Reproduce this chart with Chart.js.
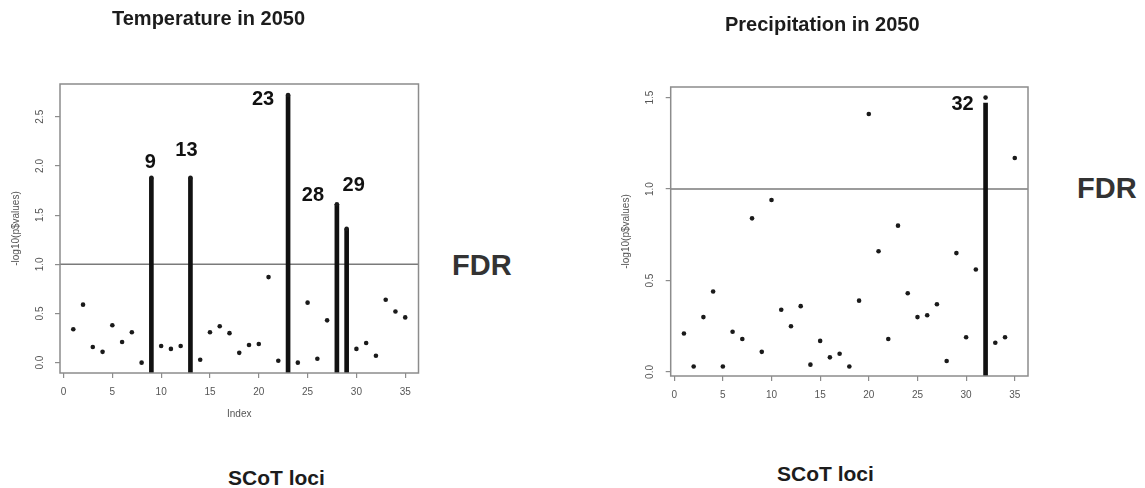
<!DOCTYPE html>
<html>
<head>
<meta charset="utf-8">
<script src="https://cdn.jsdelivr.net/npm/chart.js@4.4.1/dist/chart.umd.min.js"></script>
<style>
  body { margin: 0; background: #fff; width: 1145px; height: 488px; position: relative; overflow: hidden; font-family: "Liberation Sans", Arial, sans-serif; }
  canvas { position: absolute; top: 0; }
  #tempChart { left: 0; }
  #precipChart { left: 600px; }
  .lbl { position: absolute; font-weight: bold; color: #1c1c1c; white-space: nowrap; line-height: 1; }
  .title { font-size: 20px; }
  .fdr { font-size: 29px; color: #333; }
  .loci { font-size: 21px; }
</style>
</head>
<body>
<canvas id="tempChart" width="440" height="440"></canvas>
<canvas id="precipChart" width="450" height="440"></canvas>

<div class="lbl title" style="left:112px; top:8px">Temperature in 2050</div>
<div class="lbl title" style="left:725px; top:14px">Precipitation in 2050</div>
<div class="lbl fdr" style="left:452px; top:251px">FDR</div>
<div class="lbl fdr" style="left:1077px; top:174px">FDR</div>
<div class="lbl loci" style="left:228px; top:467px">SCoT loci</div>
<div class="lbl loci" style="left:777px; top:463px">SCoT loci</div>

<script>
Chart.defaults.font.family = '"Liberation Sans", Arial, sans-serif';

// locus index along the x axis
const loci = [1, 2, 3, 4, 5, 6, 7, 8, 9, 10, 11, 12, 13, 14, 15, 16, 17, 18,
  19, 20, 21, 22, 23, 24, 25, 26, 27, 28, 29, 30, 31, 32, 33, 34, 35];

// -log10(p) per locus, temperature model
const tempValues = [0.34, 0.59, 0.16, 0.11, 0.38, 0.21, 0.31, 0.00, 1.88, 0.17,
  0.14, 0.17, 1.88, 0.03, 0.31, 0.37, 0.30, 0.10, 0.18, 0.19,
  0.87, 0.02, 2.72, 0.00, 0.61, 0.04, 0.43, 1.61, 1.36, 0.14,
  0.20, 0.07, 0.64, 0.52, 0.46];

// -log10(p) per locus, precipitation model
const precipValues = [0.21, 0.03, 0.30, 0.44, 0.03, 0.22, 0.18, 0.84, 0.11, 0.94,
  0.34, 0.25, 0.36, 0.04, 0.17, 0.08, 0.10, 0.03, 0.39, 1.41,
  0.66, 0.18, 0.80, 0.43, 0.30, 0.31, 0.37, 0.06, 0.65, 0.19,
  0.56, 1.50, 0.16, 0.19, 1.17];

// loci passing the FDR cut and the height of their bars
const tempHits = [9, 13, 23, 28, 29];
const tempHitHeights = [1.88, 1.88, 2.72, 1.61, 1.36];
const precipHits = [32];
const precipHitHeights = [1.47];

const fdrLevel = 1.0;

const xRange = [-0.36, 36.36];
const tempYRange = [-0.105, 2.833];
const precipYRange = [-0.022, 1.558];

// box, rotated y labels and locus numbers, R style
const frame = {
  id: 'frame',
  afterDatasetsDraw(chart, args, o) {
    const { ctx, chartArea: a, scales: { x, y } } = chart;
    ctx.save();
    ctx.strokeStyle = '#8c8c8c';
    ctx.lineWidth = 1.5;
    ctx.strokeRect(a.left, a.top, a.right - a.left, a.bottom - a.top);

    ctx.fillStyle = '#555';
    ctx.font = '10px "Liberation Sans"';
    ctx.textAlign = 'center';
    ctx.textBaseline = 'middle';
    y.ticks.forEach(t => {
      ctx.save();
      ctx.translate(a.left - 20, y.getPixelForValue(t.value));
      ctx.rotate(-Math.PI / 2);
      ctx.fillText(t.value.toFixed(1), 0, 0);
      ctx.restore();
    });
    ctx.save();
    ctx.translate(a.left - 44, (a.top + a.bottom) / 2);
    ctx.rotate(-Math.PI / 2);
    ctx.fillText('-log10(p$values)', 0, 0);
    ctx.restore();
    if (o.xTitle) ctx.fillText(o.xTitle, (a.left + a.right) / 2, a.bottom + 41);

    ctx.fillStyle = '#111';
    ctx.font = 'bold 20px "Liberation Sans"';
    o.hits.forEach((h, i) => {
      const [dx, dy] = o.offsets[i];
      ctx.fillText(String(h), x.getPixelForValue(h) + dx, y.getPixelForValue(o.heights[i]) + dy);
    });
    ctx.restore();
  }
};

function lociChart(id, values, hits, heights, yRange, layout) {
  const tickGrid = { drawOnChartArea: false, offset: false, color: '#8c8c8c', lineWidth: 1.2, tickLength: 5 };
  return new Chart(document.getElementById(id), {
    type: 'scatter',
    data: {
      datasets: [
        {
          type: 'scatter',
          data: loci.map((l, i) => ({ x: l, y: values[i] })),
          pointRadius: 2.3,
          backgroundColor: '#1a1a1a',
          borderWidth: 0,
          order: 1
        },
        {
          type: 'bar',
          data: hits.map((h, i) => ({ x: h, y: [yRange[0], heights[i]] })),
          backgroundColor: '#111',
          barThickness: 4,
          order: 2
        },
        {
          type: 'line',
          data: [{ x: xRange[0], y: fdrLevel }, { x: xRange[1], y: fdrLevel }],
          borderColor: '#7a7a7a',
          borderWidth: 1.5,
          pointRadius: 0,
          order: 3
        }
      ]
    },
    options: {
      responsive: false,
      animation: false,
      layout: { padding: { top: layout.top, right: layout.right, left: 0, bottom: 0 } },
      plugins: {
        legend: { display: false },
        tooltip: { enabled: false },
        frame: { hits: hits, heights: heights, offsets: layout.offsets, xTitle: layout.xTitle }
      },
      scales: {
        x: {
          type: 'linear',
          min: xRange[0],
          max: xRange[1],
          offset: false,
          afterFit: s => { s.height = layout.xHeight; },
          border: { display: false },
          grid: tickGrid,
          ticks: { stepSize: 5, includeBounds: false, autoSkip: false, maxRotation: 0, padding: 8, color: '#555', font: { size: 10 } }
        },
        y: {
          type: 'linear',
          min: yRange[0],
          max: yRange[1],
          afterFit: s => { s.width = layout.yWidth; },
          border: { display: false },
          grid: tickGrid,
          ticks: { stepSize: 0.5, includeBounds: false, display: false }
        }
      }
    },
    plugins: [frame]
  });
}

lociChart('tempChart', tempValues, tempHits, tempHitHeights, tempYRange, {
  top: 84, right: 21.5, xHeight: 67, yWidth: 60, xTitle: 'Index',
  offsets: [[-1, -15], [-4, -27], [-25, 4], [-24, -9], [7, -43]]
});

lociChart('precipChart', precipValues, precipHits, precipHitHeights, precipYRange, {
  top: 87, right: 22, xHeight: 64, yWidth: 70.7, xTitle: '',
  offsets: [[-23, 1]]
});
</script>
</body>
</html>
